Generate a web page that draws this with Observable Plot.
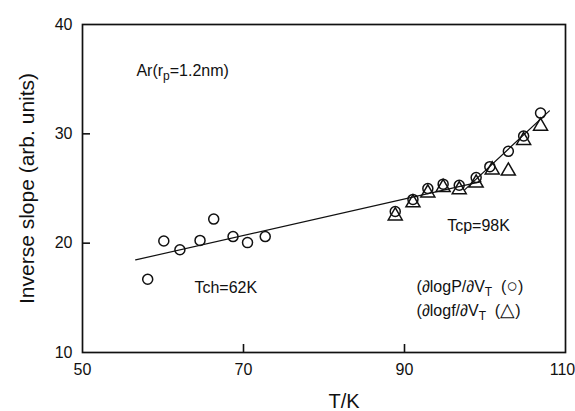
<!DOCTYPE html>
<html>
<head>
<meta charset="utf-8">
<script src="https://cdn.jsdelivr.net/npm/d3@7"></script>
<script src="https://cdn.jsdelivr.net/npm/@observablehq/plot@0.6"></script>
<style>
  html, body { margin: 0; padding: 0; background: #fff; }
  #chart svg { display: block; }
</style>
</head>
<body>
<div id="chart"></div>
<script>
// Ar in pores of radius 1.2 nm: inverse slope vs temperature
// from dlogP/dV_T (circles)
const tempP  = [58.1, 60.1, 62.1, 64.6, 66.3, 68.7, 70.5, 72.7, 88.85, 91.05, 92.9, 94.8, 96.8, 98.9, 100.6, 102.9, 104.8, 106.9];
const slopeP = [16.7, 20.2, 19.4, 20.25, 22.2, 20.6, 20.05, 20.6, 22.9, 24.0, 25.0, 25.4, 25.3, 26.0, 27.0, 28.4, 29.8, 31.9];
// from dlogf/dV_T (triangles)
const tempF  = [88.85, 91.05, 92.9, 94.8, 96.8, 98.9, 100.9, 102.9, 104.8, 106.9];
const slopeF = [22.5, 23.7, 24.6, 25.1, 24.9, 25.5, 26.7, 26.6, 29.4, 30.7];

// straight-line fits below and above the transition
const lowFitT   = [56.6, 99.5];
const lowFitS   = [18.47, 25.63];
const highFitT  = [97.5, 108.0];
const highFitS  = [24.9, 32.1];

// axes
const xTickLabels = [50, 70, 90];
const xLastLabel  = [110];
const yTickLabels = [10, 20, 30, 40];
const xInnerTicks = [70, 90];
const yInnerTicks = [20, 30];
const xTitle = "T/K";
const yTitle = "Inverse slope (arb. units)";

// annotations (underscore marks a one-letter subscript)
const noteText   = ["Ar(r_p=1.2nm)", "Tch=62K", "Tcp=98K", "(∂logP/∂V_T  (○)", "(∂logf/∂V_T  (△)"];
const noteT      = [56.7, 67.8, 95.3, 91.5, 91.5];
const noteS      = [35.8, 15.9, 21.6, 16.0, 13.8];
const noteAnchor = ["start", "middle", "start", "start", "start"];

const pointsP = tempP.map((t, i) => ({t, s: slopeP[i]}));
const pointsF = tempF.map((t, i) => ({t, s: slopeF[i]}));
const lowFit  = lowFitT.map((t, i) => ({t, s: lowFitS[i]}));
const highFit = highFitT.map((t, i) => ({t, s: highFitS[i]}));
const notes   = noteText.map((text, i) => ({text, t: noteT[i], s: noteS[i], anchor: noteAnchor[i]}));

const ink = "#111";

const chart = Plot.plot({
  width: 575,
  height: 411,
  marginLeft: 82,
  marginRight: 10,
  marginTop: 24,
  marginBottom: 59,
  style: {fontFamily: "'Liberation Sans', Arial, Helvetica, sans-serif", background: "#fff", color: ink},
  x: {domain: [50, 110]},
  y: {domain: [10, 40]},
  marks: [
    Plot.frame({stroke: ink, strokeWidth: 1.7}),
    Plot.axisX(xTickLabels, {tickSize: 0, tickPadding: 11, fontSize: 16, label: null}),
    Plot.axisX(xLastLabel, {tickSize: 0, tickPadding: 11, fontSize: 16, label: null, dx: -3}),
    Plot.axisX(xInnerTicks, {tickSize: -8, text: null, label: null, strokeWidth: 1.6}),
    Plot.axisY(yTickLabels, {tickSize: 0, tickPadding: 10, fontSize: 16, label: null}),
    Plot.axisY(yInnerTicks, {tickSize: -8, text: null, label: null, strokeWidth: 1.6}),
    Plot.line(lowFit, {x: "t", y: "s", stroke: ink, strokeWidth: 1.2}),
    Plot.line(highFit, {x: "t", y: "s", stroke: ink, strokeWidth: 1.2}),
    Plot.dot(pointsF, {x: "t", y: "s", symbol: "triangle", r: 5.2, stroke: ink, strokeWidth: 1.5, fill: "none"}),
    Plot.dot(pointsP, {x: "t", y: "s", symbol: "circle", r: 5, stroke: ink, strokeWidth: 1.5, fill: "none"}),
    Plot.text(notes.filter(d => d.anchor === "start"), {x: "t", y: "s", text: "text", textAnchor: "start", fontSize: 16, fill: ink}),
    Plot.text(notes.filter(d => d.anchor === "middle"), {x: "t", y: "s", text: "text", textAnchor: "middle", fontSize: 16, fill: ink}),
    Plot.text([yTitle], {frameAnchor: "left", textAnchor: "middle", rotate: -90, dx: -55, fontSize: 21, fill: ink}),
    Plot.text([xTitle], {frameAnchor: "bottom", textAnchor: "middle", dy: 55, dx: 20, fontSize: 20, fill: ink})
  ]
});

// "_x" becomes a subscript; the marker glyphs are set a little larger
d3.select(chart).selectAll("text").each(function () {
  const s = this.textContent;
  if (!/[_○△]/.test(s)) return;
  const el = d3.select(this);
  el.text(null);
  const parts = s.split(/(_\w|[○△])/).filter(p => p !== "");
  let shift = 0;
  for (const p of parts) {
    const span = el.append("tspan");
    if (p[0] === "_") {
      span.attr("dy", 4 - shift).attr("font-size", 12).text(p[1]);
      shift = 4;
    } else {
      if (shift) span.attr("dy", -shift);
      shift = 0;
      if (p === "○" || p === "△") span.attr("font-size", 19);
      span.text(p);
    }
  }
});

document.getElementById("chart").appendChild(chart);
</script>
</body>
</html>
